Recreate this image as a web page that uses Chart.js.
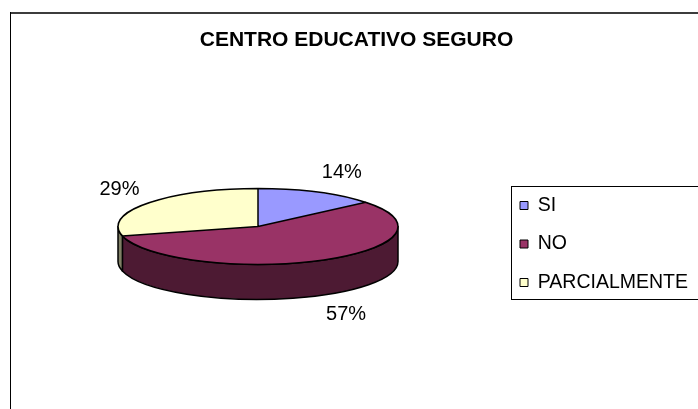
<!DOCTYPE html>
<html>
<head>
<meta charset="utf-8">
<title>Centro educativo seguro</title>
<script src="https://cdn.jsdelivr.net/npm/chart.js@4.4.1/dist/chart.umd.min.js"></script>
<style>
    html, body { margin: 0; padding: 0; background: #fff; overflow: hidden; }
    canvas { display: block; }
</style>
</head>
<body>
<canvas id="pie-chart" width="698" height="409"></canvas>
<script>
(function() {
    'use strict';

    // Data
    const chartTitle = 'CENTRO EDUCATIVO SEGURO';
    const categories = ['SI', 'NO', 'PARCIALMENTE'];
    const values = [14, 57, 29];

    // Colours: top face and darker side wall
    const topColors = ['#9999FF', '#993366', '#FFFFCC'];
    const sideColors = ['#4D4D80', '#4D1A33', '#808066'];

    const FONT = "'Liberation Sans', Arial, Helvetica, sans-serif";
    const TILT = 0.271;   // vertical squash of the pie disc
    const DEPTH = 35;     // thickness of the 3D disc in px

    Chart.defaults.font.family = FONT;
    Chart.defaults.color = '#000';

    function geometry(chart) {
        const arcs = chart.getDatasetMeta(0).data;
        const first = arcs[0];
        const r = first.outerRadius;
        return {
            arcs: arcs,
            cx: first.x,
            cyArea: first.y,
            cy: first.y - DEPTH / 2,   // centre the whole solid in the area
            r: r,
            ry: r * TILT
        };
    }

    const pie3d = {
        id: 'pie3d',

        beforeDraw: function(chart) {
            const ctx = chart.ctx;
            ctx.save();
            ctx.fillStyle = '#fff';
            ctx.fillRect(0, 0, chart.width, chart.height);
            // Outer frame (only top and left edges are inside the picture)
            ctx.fillStyle = '#3c3c3c';
            ctx.fillRect(10, 12, chart.width, 2);
            ctx.fillStyle = '#000';
            ctx.fillRect(10, 12, 1, chart.height);
            ctx.restore();
        },

        beforeDatasetsDraw: function(chart) {
            const ctx = chart.ctx;
            const g = geometry(chart);

            // Side walls: only the front half (canvas angles 0..PI) is visible
            ctx.save();
            ctx.lineWidth = 1.5;
            ctx.strokeStyle = '#000';
            ctx.lineJoin = 'round';
            g.arcs.forEach(function(arc, i) {
                const a = Math.max(arc.startAngle, 0);
                const b = Math.min(arc.endAngle, Math.PI);
                if (b <= a) {
                    return;
                }
                ctx.beginPath();
                ctx.ellipse(g.cx, g.cy, g.r, g.ry, 0, a, b, false);
                ctx.lineTo(g.cx + g.r * Math.cos(b), g.cy + DEPTH + g.ry * Math.sin(b));
                ctx.ellipse(g.cx, g.cy + DEPTH, g.r, g.ry, 0, b, a, true);
                ctx.closePath();
                ctx.fillStyle = sideColors[i];
                ctx.fill();
                ctx.stroke();
            });
            ctx.restore();

            // Squash the flat pie drawn by Chart.js into the top face
            ctx.save();
            ctx.translate(0, g.cy);
            ctx.scale(1, TILT);
            ctx.translate(0, -g.cyArea);
        },

        afterDatasetsDraw: function(chart) {
            const ctx = chart.ctx;
            ctx.restore();
            const g = geometry(chart);

            // Outline of the top face
            ctx.save();
            ctx.lineWidth = 1.5;
            ctx.strokeStyle = '#000';
            ctx.lineJoin = 'round';
            ctx.beginPath();
            ctx.ellipse(g.cx, g.cy, g.r, g.ry, 0, 0, Math.PI * 2);
            g.arcs.forEach(function(arc) {
                ctx.moveTo(g.cx, g.cy);
                ctx.lineTo(g.cx + g.r * Math.cos(arc.startAngle), g.cy + g.ry * Math.sin(arc.startAngle));
            });
            ctx.stroke();

            // Percentage labels outside the slices
            const data = chart.data.datasets[0].data;
            const total = data.reduce(function(s, v) { return s + v; }, 0);
            ctx.fillStyle = '#000';
            ctx.font = '20px ' + FONT;
            ctx.textAlign = 'center';
            ctx.textBaseline = 'middle';
            g.arcs.forEach(function(arc, i) {
                const mid = (arc.startAngle + arc.endAngle) / 2;
                const c = Math.cos(mid);
                const s = Math.sin(mid);
                const x = g.cx + (g.r + 10) * c + (c >= 0 ? 20 : -20);
                const y = g.cy + (g.ry + 22) * s + (s > 0 ? DEPTH : 0);
                const pct = Math.round(data[i] / total * 100);
                ctx.fillText(pct + '%', x, y);
            });
            ctx.restore();
        },

        afterDraw: function(chart) {
            // Frame round the legend
            const legend = chart.legend;
            const boxes = legend && legend.legendHitBoxes;
            if (!boxes || !boxes.length) {
                return;
            }
            const last = boxes[boxes.length - 1];
            const top = Math.round(boxes[0].top - 10);
            const bottom = Math.round(last.top + last.height + 7);
            const left = Math.round(legend.left + 10);
            const ctx = chart.ctx;
            ctx.save();
            ctx.strokeStyle = '#000';
            ctx.lineWidth = 1;
            ctx.strokeRect(left + 0.5, top + 0.5, chart.width, bottom - top);
            ctx.restore();
        }
    };

    const baseLabels = (Chart.overrides.pie || Chart.overrides.doughnut).plugins.legend.labels.generateLabels;

    new Chart(document.getElementById('pie-chart'), {
        type: 'pie',
        data: {
            labels: categories,
            datasets: [{
                data: values,
                backgroundColor: topColors,
                borderWidth: 0,
                clip: false
            }]
        },
        options: {
            responsive: false,
            devicePixelRatio: 1,
            animation: false,
            events: [],
            layout: {
                padding: { left: 15, right: 0, top: 0, bottom: 25 }
            },
            plugins: {
                title: {
                    display: true,
                    text: chartTitle,
                    color: '#000',
                    font: { size: 21, weight: 'bold', lineHeight: 1.2 },
                    padding: { top: 28, bottom: 50.8 }
                },
                legend: {
                    position: 'right',
                    fullSize: false,
                    labels: {
                        boxWidth: 8,
                        boxHeight: 8,
                        padding: 19,
                        color: '#000',
                        font: { size: 19.5 },
                        generateLabels: function(chart) {
                            return baseLabels(chart).map(function(item) {
                                item.strokeStyle = '#000';
                                item.lineWidth = 1;
                                return item;
                            });
                        }
                    }
                },
                tooltip: { enabled: false }
            }
        },
        plugins: [pie3d]
    });
})();
</script>
</body>
</html>
